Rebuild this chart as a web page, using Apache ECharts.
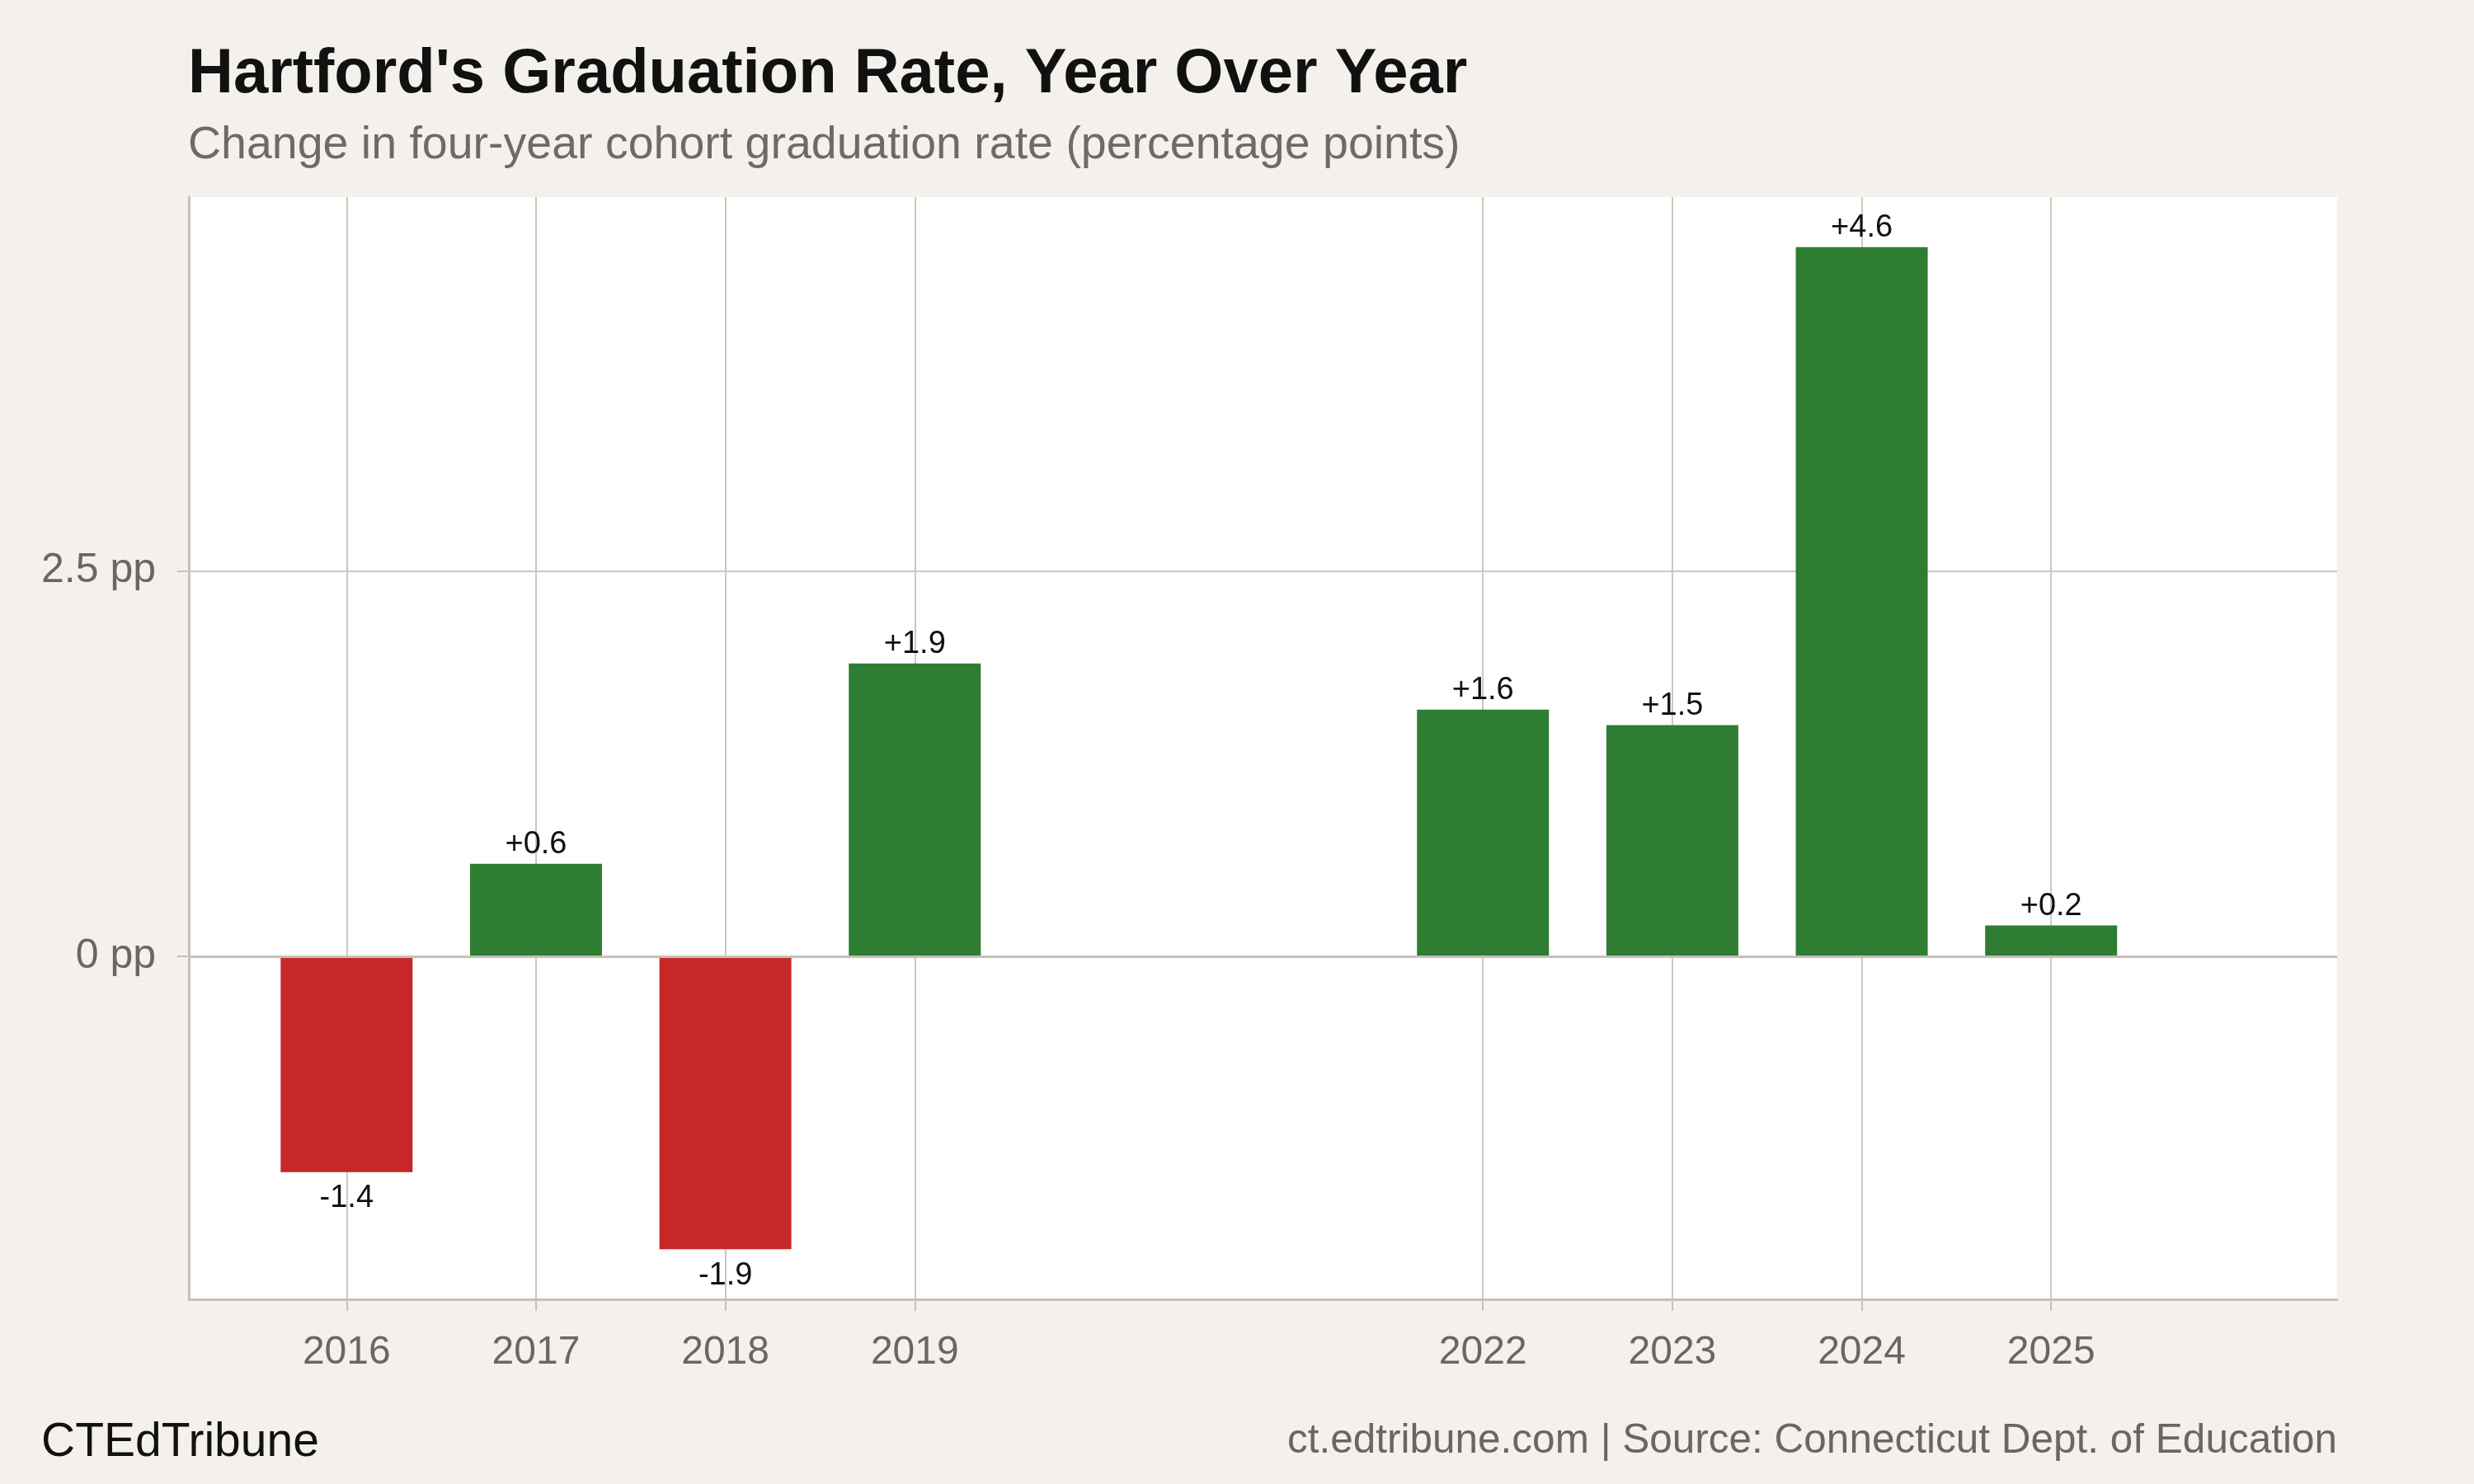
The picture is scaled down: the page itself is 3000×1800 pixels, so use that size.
<!DOCTYPE html>
<html><head><meta charset="utf-8">
<script src="https://cdn.jsdelivr.net/npm/echarts@6/dist/echarts.min.js"></script>
<style>html,body{margin:0;padding:0;background:#f4f1ec}#c{width:3000px;height:1800px}</style>
</head><body><div id="c"></div>
<script>
const years = [2016, 2017, 2018, 2019, 2022, 2023, 2024, 2025];
const changes = [-1.4, 0.6, -1.9, 1.9, 1.6, 1.5, 4.6, 0.2];
const yTicks = [0, 2.5];
const titleText = "Hartford's Graduation Rate, Year Over Year";
const subtitleText = "Change in four-year cohort graduation rate (percentage points)";
const brandText = "CTEdTribune";
const sourceText = "ct.edtribune.com | Source: Connecticut Dept. of Education";

const FONT = "'Liberation Sans', Arial, Helvetica, sans-serif";
const GRID = '#cdc8c0';
const AXIS = '#c6c0b7';
const GREY = '#6b6660';
const POS = '#2e7d32', NEG = '#c62828';

const fmt = v => (v > 0 ? '+' : '') + v.toFixed(1);

const barData = years.map((y, i) => {
  const v = changes[i];
  return {
    value: [y, v],
    itemStyle: { color: v < 0 ? NEG : POS },
    label: { position: v < 0 ? 'bottom' : 'top', distance: v < 0 ? 13 : 4 }
  };
});

const chart = echarts.init(document.getElementById('c'), null, { renderer: 'canvas' });
chart.setOption({
  backgroundColor: '#f4f1ec',
  animation: false,
  textStyle: { fontFamily: FONT },
  title: [
    { text: titleText, left: 228, top: 53, padding: 0,
      textStyle: { fontFamily: FONT, fontSize: 76, fontWeight: 'bold', color: '#111' } },
    { text: subtitleText, left: 228, top: 149, padding: 0,
      textStyle: { fontFamily: FONT, fontSize: 55.5, fontWeight: 'normal', color: '#6f6a64' } },
    { text: brandText, left: 50, top: 1722, padding: 0,
      textStyle: { fontFamily: FONT, fontSize: 57, fontWeight: 'normal', color: '#111' } },
    { text: sourceText, right: 166, top: 1723, padding: 0,
      textStyle: { fontFamily: FONT, fontSize: 49.5, fontWeight: 'normal', color: GREY } }
  ],
  grid: { left: 229, right: 166, top: 239, bottom: 224, containLabel: false,
          show: true, backgroundColor: '#ffffff', borderWidth: 0 },
  xAxis: {
    type: 'value', min: 2015.167, max: 2026.51,
    axisLine: { show: true, onZero: false, lineStyle: { color: AXIS, width: 3 } },
    axisTick: { show: true, customValues: years, length: 14, lineStyle: { color: AXIS, width: 2 } },
    axisLabel: { show: true, customValues: years, formatter: v => String(v), margin: 41,
                 fontFamily: FONT, fontSize: 48, color: GREY },
    splitLine: { show: false }
  },
  yAxis: {
    type: 'value', min: -2.225, max: 4.925,
    axisLine: { show: true, lineStyle: { color: AXIS, width: 3 } },
    axisTick: { show: true, customValues: yTicks, length: 14, lineStyle: { color: AXIS, width: 2 } },
    axisLabel: { show: true, customValues: yTicks, formatter: v => v + ' pp', margin: 40,
                 fontFamily: FONT, fontSize: 50, color: GREY },
    splitLine: { show: false }
  },
  series: [
    {
      type: 'line', data: [], z: 1, silent: true,
      markLine: {
        z: 1, silent: true, symbol: 'none', label: { show: false },
        lineStyle: { color: GRID, width: 2, type: 'solid' },
        data: years.map(y => ({ xAxis: y })).concat([{ yAxis: yTicks[1] }])
      }
    },
    {
      type: 'bar', z: 3, barWidth: 160, data: barData,
      label: { show: true, formatter: p => fmt(p.value[1]), fontFamily: FONT, fontSize: 38, color: '#111' },
      markLine: {
        z: 4, silent: true, symbol: 'none', label: { show: false },
        lineStyle: { color: AXIS, width: 3, type: 'solid' },
        data: [{ yAxis: yTicks[0] }]
      }
    }
  ]
});
</script></body></html>
